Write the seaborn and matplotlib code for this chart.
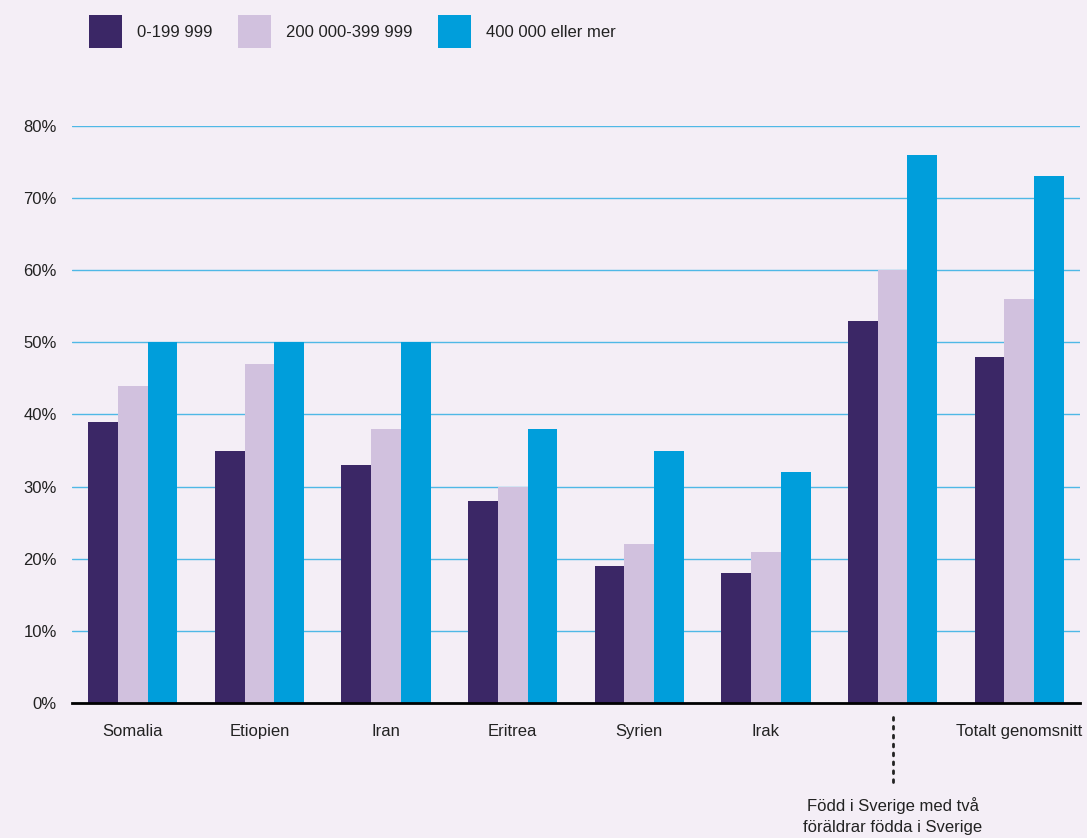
import pandas as pd
import matplotlib.pyplot as plt
import seaborn as sns
from matplotlib.ticker import PercentFormatter

categories = ["Somalia", "Etiopien", "Iran", "Eritrea", "Syrien", "Irak",
              "Född i Sverige med två\nföräldrar födda i Sverige", "Totalt genomsnitt"]
groups = ["0-199 999", "200 000-399 999", "400 000 eller mer"]
low = [39, 35, 33, 28, 19, 18, 53, 48]
mid = [44, 47, 38, 30, 22, 21, 60, 56]
high = [50, 50, 50, 38, 35, 32, 76, 73]
yticks = [0, 10, 20, 30, 40, 50, 60, 70, 80]

colors = ["#3b2766", "#d1c1de", "#009edb"]
bg = "#f4eef6"

df = pd.DataFrame({
    "category": categories * 3,
    "group": [groups[0]] * 8 + [groups[1]] * 8 + [groups[2]] * 8,
    "value": low + mid + high,
})

sns.set_style("white")
plt.rcParams["font.family"] = ["Liberation Sans", "DejaVu Sans"]

fig = plt.figure(figsize=(10.87, 8.38), dpi=100, facecolor=bg)
ax = fig.add_axes([72 / 1087, (838 - 703) / 838, (1080 - 72) / 1087, (703 - 126) / 838])
ax.set_facecolor(bg)

sns.barplot(data=df, x="category", y="value", hue="group", palette=colors,
            order=categories, hue_order=groups, width=0.705, saturation=1,
            linewidth=0, ax=ax, zorder=3)

ax.set_ylim(0, 80)
ax.set_xlim(-0.48, 7.48)
ax.set_yticks(yticks)
ax.yaxis.set_major_formatter(PercentFormatter(decimals=0))
ax.grid(axis="y", color="#4fb8e6", linewidth=1, zorder=0)
ax.grid(axis="x", visible=False)
for s in ["top", "right", "left"]:
    ax.spines[s].set_visible(False)
ax.spines["bottom"].set_color("black")
ax.spines["bottom"].set_linewidth(2)
ax.spines["bottom"].set_zorder(5)
ax.tick_params(axis="both", length=0, labelsize=12, colors="#222222")
ax.tick_params(axis="y", pad=11)
ax.tick_params(axis="x", pad=15)
ax.set_xlabel("")
ax.set_ylabel("")

# the long label sits further down with a dotted leader
labels = [c if i != 6 else "" for i, c in enumerate(categories)]
ax.set_xticks(range(len(categories)))
ax.set_xticklabels(labels)
ax.plot([6, 6], [-2.0, -11.0], linestyle=(0, (1, 2.2)), color="#222222",
        linewidth=2, clip_on=False, dash_capstyle="round")
ax.text(6, -13.1, categories[6], ha="center", va="top", fontsize=12,
        color="#222222", linespacing=1.45, clip_on=False)

handles, lbls = ax.get_legend_handles_labels()
ax.legend(handles, lbls, loc="upper left", bbox_to_anchor=(74 / 1087, 1 - 0 / 838),
          bbox_transform=fig.transFigure, ncol=3, frameon=False, fontsize=12,
          handlelength=1.96, handleheight=2.7, handletextpad=0.9, columnspacing=1.55,
          labelcolor="#222222")

fig.savefig("out.png", dpi=100, facecolor=bg)
